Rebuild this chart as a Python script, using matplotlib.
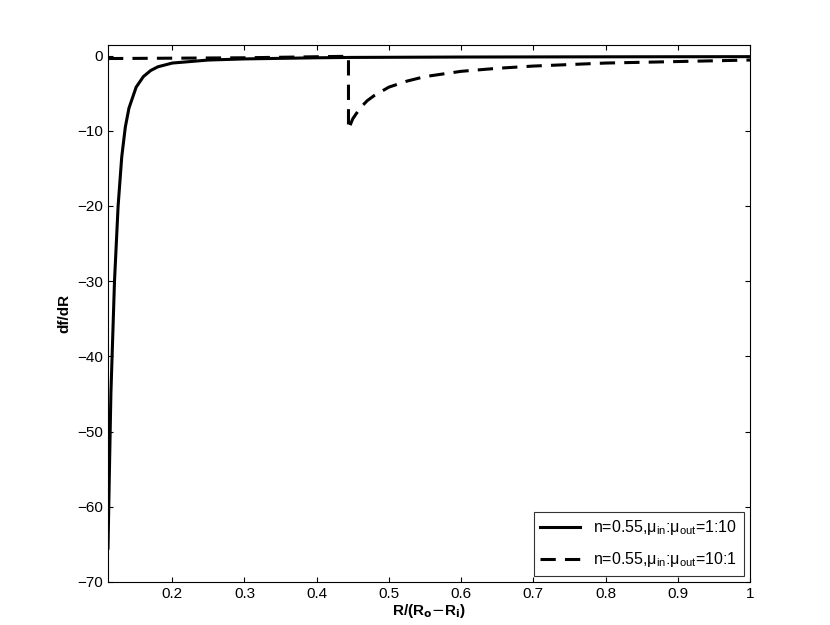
import matplotlib
matplotlib.use("Agg")
import matplotlib.pyplot as plt

plt.rcParams["font.family"] = "Liberation Sans"

# n=0.55, mu_in:mu_out = 1:10
x_solid = [0.111, 0.113, 0.115, 0.118, 0.12, 0.125, 0.13, 0.135, 0.14, 0.15, 0.16, 0.17,
           0.18, 0.2, 0.25, 0.3, 0.4, 0.45, 0.6, 0.8, 1.0]
y_solid = [-65.5, -55, -45, -36, -30, -20, -13.5, -9.5, -7, -4.2, -2.8, -2.0,
           -1.5, -1.0, -0.6, -0.45, -0.3, -0.25, -0.2, -0.17, -0.15]

# n=0.55, mu_in:mu_out = 10:1
x_dash = [0.111, 0.3, 0.444, 0.444, 0.45, 0.46, 0.47, 0.48, 0.5, 0.525, 0.55, 0.6,
          0.65, 0.7, 0.8, 0.9, 1.0]
y_dash = [-0.4, -0.3, -0.1, -9.8, -8.4, -7.0, -6.0, -5.3, -4.2, -3.4, -2.8, -2.1,
          -1.7, -1.4, -1.0, -0.8, -0.6]

fig = plt.figure(figsize=(8.3, 6.25), dpi=100)
ax = fig.add_axes([108 / 830, 1 - 582 / 625, (750 - 108) / 830, (582 - 45) / 625])
ax.plot(x_solid, y_solid, "-", color="black", lw=2.2,
        label=r"n=0.55,$\mathregular{\mu_{in}}$:$\mathregular{\mu_{out}}$=1:10")
ax.plot(x_dash, y_dash, "--", color="black", lw=2.2, dashes=(5, 3),
        label=r"n=0.55,$\mathregular{\mu_{in}}$:$\mathregular{\mu_{out}}$=10:1")
ax.set_xlim(0.111, 1.0)
ax.set_ylim(-70, 1.4)
ax.set_xticks([0.2, 0.3, 0.4, 0.5, 0.6, 0.7, 0.8, 0.9, 1])
ax.set_xticklabels(["0.2", "0.3", "0.4", "0.5", "0.6", "0.7", "0.8", "0.9", "1"])
ax.set_yticks(range(-70, 1, 10))
ax.set_yticklabels(["\u221270", "\u221260", "\u221250", "\u221240", "\u221230",
                    "\u221220", "\u221210", "0"])
ax.tick_params(direction="in", top=True, right=True, labelsize=11)
ax.set_xlabel(r"R/(R$_\mathbf{o}$$-$R$_\mathbf{i}$)", fontweight="bold", fontsize=11, labelpad=1)
ax.set_ylabel("df/dR", fontweight="bold", fontsize=11)
leg = ax.legend(loc="lower right", fontsize=11.5, fancybox=False, edgecolor="black",
                handlelength=2.5, borderaxespad=0.4, labelspacing=0.8)
leg.get_frame().set_linewidth(0.8)
fig.savefig("out.png", dpi=100)
